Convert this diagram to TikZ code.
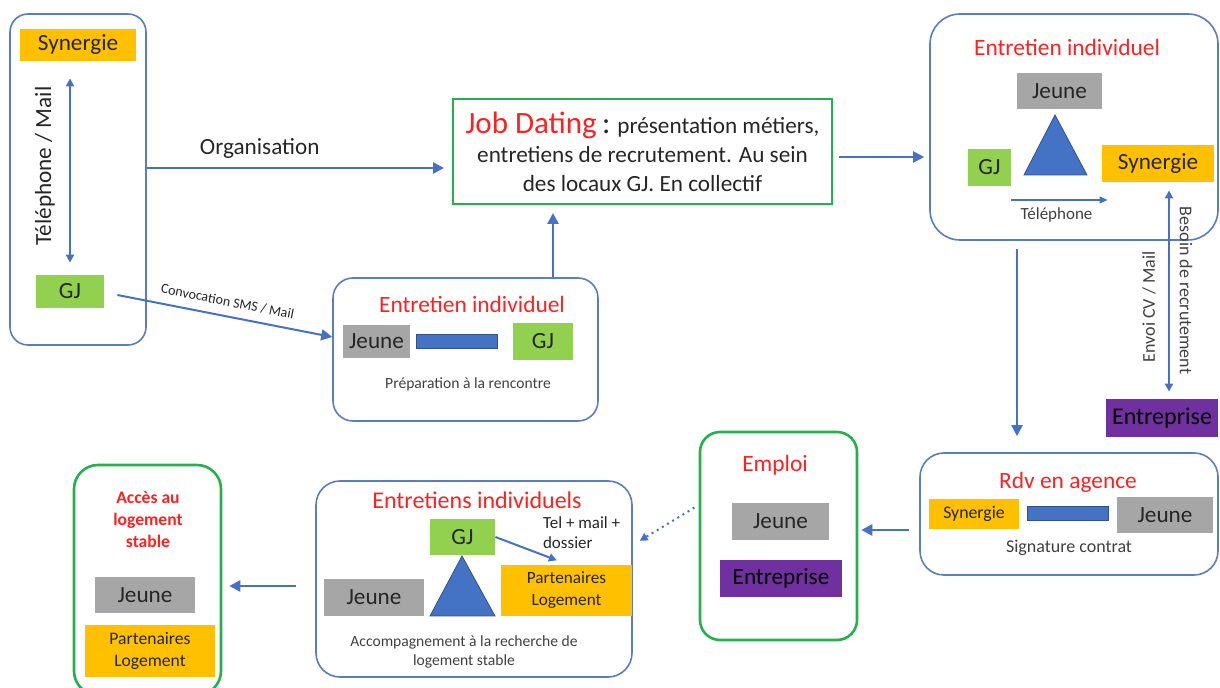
\documentclass[tikz,border=0pt]{standalone}
\usepackage{fontspec}
\setmainfont{Carlito}
\usepackage{xcolor}
\definecolor{lineBlue}{HTML}{4472C4}
\definecolor{barBlue}{HTML}{2F528F}
\definecolor{frameBlue}{HTML}{5A7DBF}
\definecolor{goalGreen}{HTML}{22B14C}
\definecolor{mRed}{HTML}{FF2020}
\definecolor{mGrey}{HTML}{A6A6A6}
\definecolor{mGreen}{HTML}{92D050}
\definecolor{mOrange}{HTML}{FFC000}
\definecolor{mPurple}{HTML}{7030A0}
\definecolor{txtDark}{HTML}{262626}
\definecolor{txtGrey}{HTML}{404040}
\usepackage{tikz}
\usetikzlibrary{fit,arrows.meta}

\begin{document}
\begin{tikzpicture}[
            x=0.5pt, y=-0.5pt,
            >={Triangle[length=5.5pt,width=5.5pt]},
            frame/.style={
                draw=frameBlue,
                line width=0.8pt,
                rounded corners=10pt,
                inner sep=0pt
            },
            goal/.style={
                draw=goalGreen,
                line width=1.3pt,
                rounded corners=10pt,
                inner sep=0pt
            },
            tag/.style={
                inner sep=0pt,
                text=txtDark,
                font=\fontsize{11.6}{14}\selectfont
            },
            jeune/.style={tag, fill=mGrey},
            gj/.style={tag, fill=mGreen},
            syn/.style={tag, fill=mOrange},
            entr/.style={tag, fill=mPurple, text=black},
            title/.style={
                text=mRed,
                font=\fontsize{11.7}{14}\selectfont
            },
            note/.style={
                text=txtGrey,
                font=\fontsize{7.8}{9.5}\selectfont
            },
            plain/.style={
                text=txtDark,
                font=\fontsize{11.6}{14}\selectfont
            },
            arrow/.style={
                ->,
                draw=lineBlue,
                line width=1.3pt
            },
            bar/.style={
                fill=lineBlue,
                draw=barBlue,
                line width=0.4pt
            }
        ]
            \useasboundingbox (0,0) rectangle (1220,688);

            % Synergie <-> GJ
            \node (contact) [frame, rounded corners=9pt, fit={(10,14) (146,345)}] {};
            \node (syn1) [syn, minimum width=58pt, minimum height=16pt] at (78,45) {Synergie};
            \node (gj1) [gj, minimum width=34pt, minimum height=16.5pt] at (70,291.5) {GJ};
            \node (tel) [plain, rotate=90] at (45,166) {Téléphone / Mail};
            \draw[<->, draw=lineBlue, line width=1pt, >={Triangle[length=4pt,width=4pt]},
                  shorten <=8.5pt, shorten >=6pt] (syn1.south -| gj1.north) -- (gj1.north);

            % Job Dating
            \node (jobdating) [draw=goalGreen, line width=1pt, minimum width=189.5pt, minimum height=52.5pt,
                               align=center, text=txtDark, font=\fontsize{11.6}{14.5}\selectfont] at (642.5,151.5)
                {{\color{mRed}\fontsize{15.5}{15}\selectfont Job Dating} {\fontsize{15.5}{15}\selectfont :}
                 présentation métiers,\\entretiens de recrutement. Au sein\\des locaux GJ. En collectif};

            % Entretien individuel (preparation)
            \node (mid) [frame, fit={(333,278) (598,421)}] {};
            \node (midtitle) [title] at (472,304) {Entretien individuel};
            \node (jeune2) [jeune, minimum width=33.5pt, minimum height=16.5pt] at (376.5,341.5) {Jeune};
            \node (gj2) [gj, minimum width=30pt, minimum height=18.5pt] at (543,341.5) {GJ};
            \filldraw[bar] (416,334) rectangle (497,348);
            \node (prep) [note] at (468,384) {Préparation à la rencontre};

            % Entretien individuel (triangle)
            \node (tr) [frame, rounded corners=15pt, fit={(930,14) (1218,240)}] {};
            \node (trtitle) [title] at (1067,47) {Entretien individuel};
            \node (jeune3) [jeune, minimum width=42.5pt, minimum height=18pt] at (1059.5,91) {Jeune};
            \node (gj3) [gj, minimum width=21.5pt, minimum height=18.5pt] at (989.5,167.5) {GJ};
            \node (syn3) [syn, minimum width=56pt, minimum height=18.5pt] at (1158,163.5) {Synergie};
            \filldraw[bar] (1055,115) -- (1087,175) -- (1024,175) -- cycle;
            \node (ent1) [entr, font=\fontsize{12}{14}\selectfont, minimum width=56pt, minimum height=19pt] at (1162,418) {Entreprise};
            \node (envoi) [note, font=\fontsize{9}{10}\selectfont, rotate=90] at (1149,307) {Envoi CV / Mail};

            % Rdv en agence
            \node (rdv) [frame, rounded corners=12pt, fit={(920,453) (1218,575)}] {};
            \node (rdvtitle) [title] at (1068,482) {Rdv en agence};
            \node (syn4) [syn, font=\fontsize{8.9}{10}\selectfont, minimum width=45pt, minimum height=15pt] at (974,514) {Synergie};
            \node (jeune4) [jeune, minimum width=48pt, minimum height=18pt] at (1165,515) {Jeune};
            \filldraw[bar] (1027,506) rectangle (1108,520);
            \node (sign) [note, font=\fontsize{9}{10}\selectfont] at (1069,548) {Signature contrat};

            % Emploi
            \node (emploi) [goal, fit={(700,432) (857,640)}] {};
            \node (emptitle) [title] at (775,465) {Emploi};
            \node (jeune5) [jeune, minimum width=48.5pt, minimum height=18.5pt] at (780.5,521.5) {Jeune};
            \node (ent2) [entr, minimum width=61pt, minimum height=18.5pt] at (781,578.5) {Entreprise};

            % Entretiens individuels (logement)
            \node (ei) [frame, rounded corners=12pt, fit={(316,481) (632,677)}] {};
            \node (eititle) [title, font=\fontsize{12}{14}\selectfont] at (477,500) {Entretiens individuels};
            \node (gj6) [gj, minimum width=32.5pt, minimum height=18pt] at (462.5,537) {GJ};
            \node (jeune6) [jeune, minimum width=50pt, minimum height=18.5pt] at (374,597.5) {Jeune};
            \node (part6) [syn, font=\fontsize{8.6}{11}\selectfont, align=center, minimum width=65.5pt, minimum height=25.5pt] at (566.5,590.5) {Partenaires\\Logement};
            \filldraw[bar] (462,556) -- (495,616) -- (430,616) -- cycle;
            \node (telmail) [plain, font=\fontsize{8.5}{10}\selectfont, align=left, anchor=west] at (536,533) {Tel + mail +\\dossier};
            \node (accomp) [note, align=center] at (464,652) {Accompagnement à la recherche de\\logement stable};

            % Acces au logement
            \node (acces) [goal, rounded corners=12pt, fit={(74,465) (221,695)}] {};
            \node (actitle) [title, font=\fontsize{8.8}{11}\bfseries, align=center] at (148,519) {Accès au\\logement\\stable};
            \node (jeune7) [jeune, minimum width=50pt, minimum height=18pt] at (145,595) {Jeune};
            \node (part7) [syn, font=\fontsize{8.8}{11}\selectfont, align=center, minimum width=65pt, minimum height=26pt] at (150,651) {Partenaires\\Logement};

            % connectors
            \draw[arrow, shorten >=4pt] (contact.east |- 0,168) -- (jobdating.west |- 0,168)
                node[pos=0.37, above=1pt, plain] (orga) {Organisation};
            \draw[arrow, line width=1pt] ([xshift=6.5pt,yshift=-1.75pt]gj1.east) -- ([yshift=6.25pt]mid.west)
                node[midway, above=1pt, sloped, text=txtDark, font=\fontsize{7}{8}\selectfont] (convoc) {Convocation SMS / Mail};
            \draw[arrow, shorten >=4pt] (mid.north -| 553,0) -- (jobdating.south -| 553,0);
            \draw[arrow, line width=1pt, shorten <=3pt, shorten >=2.5pt] (jobdating.east |- 0,157) -- (tr.west |- 0,157);
            \draw[->, draw=lineBlue, line width=0.6pt, >={Triangle[length=4pt,width=3.5pt]}, shorten >=-3pt]
                (gj3.east |- 0,200) -- (syn3.west |- 0,200)
                node[midway, below, note, font=\fontsize{8.5}{10}\selectfont] (teleph) {Téléphone};
            \draw[<->, draw=lineBlue, line width=1pt, >={Triangle[length=4pt,width=4pt]},
                  shorten <=4pt, shorten >=3.5pt] (syn3.south -| 1169,0) -- (ent1.north -| 1169,0)
                node[pos=0.5, sloped, above=1.5pt, note, font=\fontsize{9}{10}\selectfont] (besoin) {Besoin de recrutement};
            \draw[arrow, line width=1pt, shorten <=4pt, shorten >=8pt] (tr.south -| 1017,0) -- (rdv.north -| 1017,0);
            \draw[arrow, shorten <=5pt, shorten >=1.5pt] (rdv.west |- 0,530) -- (emploi.east |- 0,530);
            \draw[->, draw=lineBlue, dotted, line width=1pt, >={Triangle[length=4pt,width=4pt]},
                  shorten <=2.5pt, shorten >=4pt] (emploi.west |- 0,505) -- (ei.east |- 0,545);
            \draw[arrow, line width=1pt, >={Triangle[length=4pt,width=4pt]}, shorten >=-1pt]
                (gj6.east) -- ([xshift=-5.75pt,yshift=2.5pt]part6.north);
            \draw[arrow, shorten <=9.5pt, shorten >=3.5pt] (ei.west |- 0,586) -- (acces.east |- 0,586);
        \end{tikzpicture}
\end{document}
